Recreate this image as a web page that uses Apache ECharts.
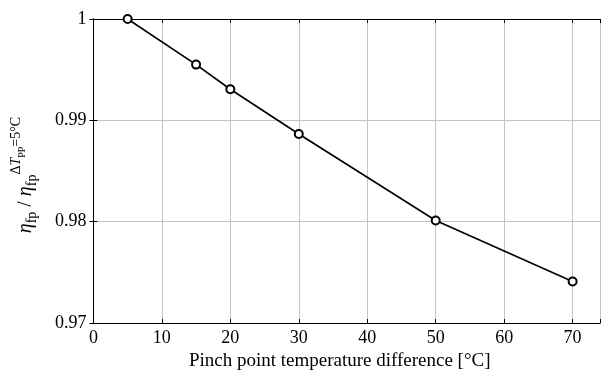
<!DOCTYPE html>
<html>
<head>
<meta charset="utf-8">
<script src="https://cdn.jsdelivr.net/npm/echarts@6/dist/echarts.min.js"></script>
<style>
  html, body { margin: 0; padding: 0; background: #fff; }
  #main { width: 603px; height: 376px; }
</style>
</head>
<body>
<div id="main"></div>
<script>
// pinch point temperature difference [°C]
const pinchDiff = [5, 15, 20, 30, 50, 70];
// relative efficiency
const effRatio = [1.0, 0.9955, 0.99307, 0.98866, 0.98012, 0.9741];
const xTicks = [0, 10, 20, 30, 40, 50, 60, 70];
const yTicks = [0.97, 0.98, 0.99, 1];

const chart = echarts.init(document.getElementById('main'));
const serif = 'Liberation Serif';

// 轴的公共样式
function baseAxis(extra) {
  return Object.assign({
    type: 'value',
    axisLine: { show: true, lineStyle: { color: '#000', width: 1 } },
    axisTick: { show: true, inside: true, length: 4, lineStyle: { color: '#000' } },
    splitLine: { show: false },
    axisLabel: { show: false }
  }, extra);
}

const option = {
  animation: false,
  grid: { left: 93, right: 2, top: 19, bottom: 48, containLabel: false },
  xAxis: [
    baseAxis({
      min: 0, max: 74, interval: 10,
      position: 'bottom',
      splitLine: { show: true, lineStyle: { color: '#c4c4c4', width: 1 } },
      axisLabel: {
        show: true, margin: 6, color: '#000', fontFamily: serif, fontSize: 18,
        formatter: v => xTicks.indexOf(v) >= 0 ? String(v) : ''
      },
      name: 'Pinch point temperature difference [°C]',
      nameLocation: 'middle', nameGap: 25,
      nameTextStyle: { color: '#000', fontFamily: serif, fontSize: 19, padding: [0, 14, 0, 0] }
    }),
    baseAxis({ min: 0, max: 74, interval: 10, position: 'top' })
  ],
  yAxis: [
    baseAxis({
      min: 0.97, max: 1, interval: 0.01,
      position: 'left',
      splitLine: { show: true, lineStyle: { color: '#c4c4c4', width: 1 } },
      axisLabel: {
        show: true, margin: 7, color: '#000', fontFamily: serif, fontSize: 18,
        formatter: v => {
          const r = Math.round(v * 100) / 100;
          return yTicks.indexOf(r) >= 0 ? String(r) : '';
        }
      },
      name: '{i|η}{sub|fp}{n| / }{i|η}{sub|fp}{sup|Δ}{supi|T}{supsub|PP}{sup|=5°C}',
      nameLocation: 'middle', nameGap: 33, nameRotate: 90,
      nameTextStyle: {
        color: '#000',
        padding: [0, 8, 0, 0],
        rich: {
          i: { fontFamily: serif, fontStyle: 'italic', fontSize: 20, lineHeight: 36, verticalAlign: 'middle', color: '#000' },
          n: { fontFamily: serif, fontSize: 20, lineHeight: 36, verticalAlign: 'middle', color: '#000' },
          sub: { fontFamily: serif, fontSize: 14, lineHeight: 14, verticalAlign: 'bottom', padding: [0, 0, 5, 0], color: '#000' },
          sup: { fontFamily: serif, fontSize: 14, lineHeight: 14, verticalAlign: 'top', padding: [1, 0, 0, 0], color: '#000' },
          supi: { fontFamily: serif, fontStyle: 'italic', fontSize: 14, lineHeight: 14, verticalAlign: 'top', padding: [1, 0, 0, 0], color: '#000' },
          supsub: { fontFamily: serif, fontSize: 10, lineHeight: 10, verticalAlign: 'top', padding: [9, 0, 0, 0], color: '#000' }
        }
      }
    }),
    baseAxis({ min: 0.97, max: 1, interval: 0.01, position: 'right' })
  ],
  series: [
    {
      type: 'line',
      data: pinchDiff.map((x, i) => [x, effRatio[i]]),
      symbol: 'circle',
      symbolSize: 8,
      showAllSymbol: true,
      lineStyle: { color: '#000', width: 1.7 },
      itemStyle: { color: '#fff', borderColor: '#000', borderWidth: 2 },
      z: 5
    }
  ]
};
chart.setOption(option);
</script>
</body>
</html>
